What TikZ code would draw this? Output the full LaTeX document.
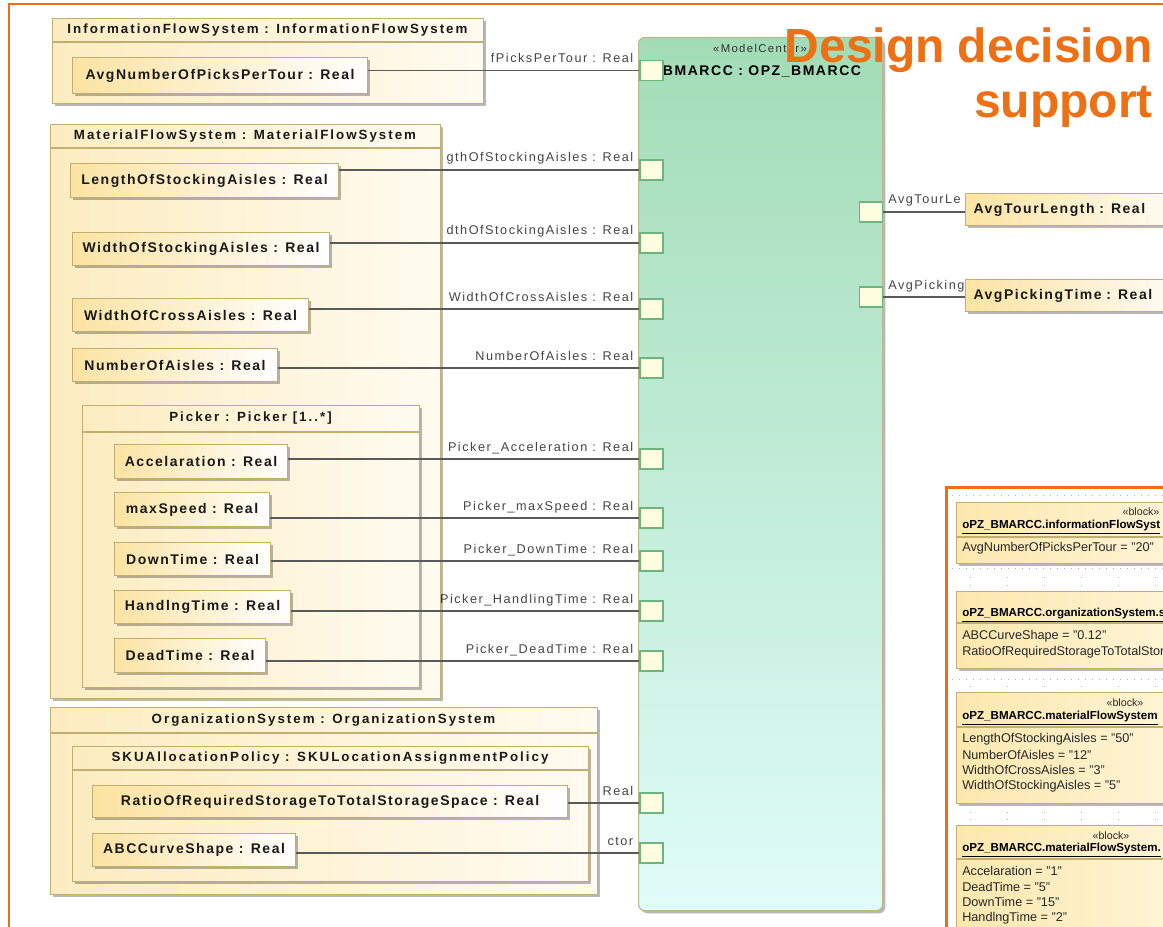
\documentclass[tikz,border=0pt]{standalone}
\usepackage{fontspec}
\setmainfont{Liberation Sans}
\newfontfamily\pfont{Liberation Sans}[LetterSpace=11]
\newfontfamily\hfont{Liberation Sans}[LetterSpace=15]
\newfontfamily\lfont{Liberation Sans}[LetterSpace=12]
\usetikzlibrary{shadows}
\definecolor{orng}{HTML}{EC6F16}
\definecolor{titleC}{HTML}{EE7014}
\definecolor{propL}{HTML}{FBE3A2}
\definecolor{propB}{HTML}{C2AE6E}
\definecolor{contL}{HTML}{FCECC0}
\definecolor{contR}{HTML}{FFFBF0}
\definecolor{mcTop}{HTML}{A2DCB6}
\definecolor{mcBot}{HTML}{E0FCFA}
\definecolor{mcB}{HTML}{BDB78E}
\definecolor{portF}{HTML}{FFFDE0}
\definecolor{portB}{HTML}{6CB57C}
\definecolor{lineC}{HTML}{5A5A5A}
\definecolor{labC}{HTML}{454545}
\definecolor{blkL}{HTML}{FCE8AE}
\definecolor{blkR}{HTML}{FFF6DC}
\newcommand\pbox[6]{\node[prop, minimum width={(#4-#2)*0.75pt}, minimum height={(#5-#3)*0.75pt}] (#1) at (#2,#3) {#6};}
\newcommand\cbox[7]{%
  \node[cont, minimum width={(#4-#2)*0.75pt}, minimum height={(#5-#3)*0.75pt}] (#1) at (#2,#3) {};
  \draw[draw=propB, line width=0.8pt] (#2,#6) -- (#4,#6);
  \node[hdr] (#1h) at ({(#2+#4)/2},{(#3+#6)/2}) {#7};}
\newcommand\blkbox[4]{%
  \node[blk, minimum width={250*0.75pt}, minimum height={(#3-#2)*0.75pt}] (#1) at (956,#2) {};
  \draw[draw=propB, line width=0.8pt] (956,#4) -- (1206,#4);}
\begin{document}
\begin{tikzpicture}[x=0.75pt,y=-0.75pt,
  shad/.style={drop shadow={shadow xshift=2pt,shadow yshift=-2pt,fill=black,opacity=0.28}},
  cont/.style={draw=propB, line width=0.8pt, left color=contL, right color=contR, shad, anchor=north west, inner sep=0pt},
  hdr/.style={font=\hfont\bfseries\fontsize{10}{12}\selectfont, text=black!90, inner sep=0pt},
  prop/.style={draw=propB, line width=0.8pt, left color=propL, right color=white, shad, anchor=north west, inner sep=0pt, font=\pfont\bfseries\fontsize{10.5}{12}\selectfont, text=black!90},
  lab/.style={font=\lfont\fontsize{9.5}{11}\selectfont, text=labC, inner sep=0pt, anchor=base east, xshift=-4.5pt, yshift=6pt},
  rlab/.style={font=\lfont\fontsize{9.5}{11}\selectfont, text=labC, inner sep=0pt, anchor=base west, xshift=3.75pt, yshift=6pt},
  conn/.style={draw=lineC, line width=0.9pt},
  port/.style={draw=portB, fill=portF, line width=0.8pt, minimum width=17.25pt, minimum height=15pt, inner sep=0pt},
  blk/.style={draw=propB, line width=0.8pt, left color=blkL, right color=blkR, shad, anchor=north west, inner sep=0pt},
  blkt/.style={font=\fontsize{9.5}{11}\selectfont, anchor=west, inner sep=0pt, text=black!85},
  blkn/.style={font=\bfseries\fontsize{8.7}{10}\selectfont, anchor=west, inner sep=0pt, text=black},
  blks/.style={font=\fontsize{8}{9}\selectfont, inner sep=0pt, text=black!85},
  ttl/.style={font=\bfseries\fontsize{36}{40}\selectfont, text=titleC, inner sep=0pt, anchor=base east},
  grdd/.style={draw=gray!60, line width=0.75pt, dash pattern=on 0.75pt off 4.5pt},
  grds/.style={draw=gray!60, line width=0.75pt, dash pattern=on 0.75pt off 27pt}]
\useasboundingbox (0,0) rectangle (1163,927);
\clip (0,0) rectangle (1163,927);
\fill[white] (0,0) rectangle (1163,927);
% outer orange frame
\draw[orng, line width=1.7pt] (9,940) -- (9,4.3) -- (1170,4.3);
% ModelCenter block
\node[draw=mcB, line width=0.9pt, top color=mcTop, bottom color=mcBot, rounded corners=4.5pt, shad, anchor=north west, inner sep=0pt, minimum width={244*0.75pt}, minimum height={873*0.75pt}] (mc) at (638,37) {};
\node[font=\lfont\fontsize{8.5}{10}\selectfont, text=black!80, inner sep=0pt] (mcst) at (760,48) {«ModelCenter»};
\node[font=\pfont\bfseries\fontsize{10.5}{12}\selectfont, inner sep=0pt] (mcname) at (762,71) {BMARCC : OPZ\_BMARCC};
% ports
\node[port] (qIFS) at (651.5,70.5) {};
\node[port] (qLSA) at (651.5,170) {};
\node[port] (qWSA) at (651.5,243) {};
\node[port] (qWCA) at (651.5,309) {};
\node[port] (qNA) at (651.5,368) {};
\node[port] (qAcc) at (651.5,459) {};
\node[port] (qMax) at (651.5,518) {};
\node[port] (qDown) at (651.5,561) {};
\node[port] (qHand) at (651.5,611) {};
\node[port] (qDead) at (651.5,661) {};
\node[port] (qRatio) at (651.5,803) {};
\node[port] (qABC) at (651.5,853) {};
\node[port] (qTour) at (871,212) {};
\node[port] (qPick) at (871,297) {};
% labels
\node[lab] (lIFS) at (qIFS.west) {fPicksPerTour : Real};
\node[lab] (lLSA) at (qLSA.west) {gthOfStockingAisles : Real};
\node[lab] (lWSA) at (qWSA.west) {dthOfStockingAisles : Real};
\node[lab] (lWCA) at (qWCA.west) {WidthOfCrossAisles : Real};
\node[lab] (lNA) at (qNA.west) {NumberOfAisles : Real};
\node[lab] (lAcc) at (qAcc.west) {Picker\_Acceleration : Real};
\node[lab] (lMax) at (qMax.west) {Picker\_maxSpeed : Real};
\node[lab] (lDown) at (qDown.west) {Picker\_DownTime : Real};
\node[lab] (lHand) at (qHand.west) {Picker\_HandlingTime : Real};
\node[lab] (lDead) at (qDead.west) {Picker\_DeadTime : Real};
\node[lab] (lRatio) at (qRatio.west) {Real};
\node[lab] (lABC) at (qABC.west) {ctor};
\node[rlab] (lTour) at (qTour.east) {AvgTourLe};
\node[rlab] (lPick) at (qPick.east) {AvgPicking};
% containers
\cbox{cIFS}{52}{18}{483}{103}{42}{InformationFlowSystem : InformationFlowSystem}
\pbox{pIFS}{72}{57}{367}{93}{AvgNumberOfPicksPerTour : Real}
\cbox{cMFS}{50}{124}{440}{698}{148}{MaterialFlowSystem : MaterialFlowSystem}
\pbox{pLSA}{70}{163}{338}{197}{LengthOfStockingAisles : Real}
\pbox{pWSA}{72}{232}{329}{265}{WidthOfStockingAisles : Real}
\pbox{pWCA}{72}{298}{308}{331}{WidthOfCrossAisles : Real}
\pbox{pNA}{72}{348}{277}{381}{NumberOfAisles : Real}
\cbox{cPick}{82}{405}{419}{687}{432}{Picker : Picker [1..*]}
\pbox{pAcc}{114}{444}{287}{478}{Accelaration : Real}
\pbox{pMax}{114}{492}{269}{526}{maxSpeed : Real}
\pbox{pDown}{114}{542}{270}{575}{DownTime : Real}
\pbox{pHand}{114}{590}{290}{623}{HandlngTime : Real}
\pbox{pDead}{114}{638}{265}{672}{DeadTime : Real}
\cbox{cOrg}{50}{707}{597}{894}{733}{OrganizationSystem : OrganizationSystem}
\cbox{cSKU}{72}{746}{588}{881}{770}{SKUAllocationPolicy : SKULocationAssignmentPolicy}
\pbox{pRatio}{92}{785}{567}{817}{RatioOfRequiredStorageToTotalStorageSpace : Real}
\pbox{pABC}{92}{833}{295}{866}{ABCCurveShape : Real}
% right property boxes
\node[prop, minimum height={32*0.75pt}, text width={(240-16)*0.75pt}, inner xsep=6pt, align=left] (pTour) at (965,193) {AvgTourLength : Real};
\node[prop, minimum height={32*0.75pt}, text width={(240-16)*0.75pt}, inner xsep=6pt, align=left] (pPick) at (965,279) {AvgPickingTime : Real};
% connectors
\foreach \p/\q in {pIFS/qIFS, pLSA/qLSA, pWSA/qWSA, pWCA/qWCA, pNA/qNA, pAcc/qAcc, pMax/qMax, pDown/qDown, pHand/qHand, pDead/qDead, pRatio/qRatio, pABC/qABC}
  \draw[conn] (\q.west) -- (\q.west -| \p.east);
\draw[conn] (qTour.east) -- (qTour.east -| pTour.west);
\draw[conn] (qPick.east) -- (qPick.east -| pPick.west);
% redraw ports on top of lines
\foreach \q/\y in {qIFS/70.5, qLSA/170, qWSA/243, qWCA/309, qNA/368, qAcc/459, qMax/518, qDown/561, qHand/611, qDead/661, qRatio/803, qABC/853}
  \node[port] at (651.5,\y) {};
% title
\node[ttl] (t1) at (1153,63) {Design decision};
\node[ttl] (t2) at (1153,118) {support};
% right panel
\draw[grdd] (952,495) -- (1163,495);
\draw[grdd] (952,568) -- (1163,568);
\draw[grds] (970,577) -- (1163,577);
\draw[grds] (970,585) -- (1163,585);
\draw[grdd] (952,679) -- (1163,679);
\draw[grds] (970,686) -- (1163,686);
\draw[grds] (970,812) -- (1163,812);
\draw[grds] (970,819) -- (1163,819);
\draw[orng, line width=2.25pt] (946,940) -- (946,487) -- (1170,487);
\blkbox{b1}{502}{563}{537}
\node[blks] (b1s) at (1141,512) {«block»};
\node[blkn] (b1n) at (962,527) {\underline{oPZ\_BMARCC.informationFlowSyst}};
\node[blkt] (b1a) at (962,548) {AvgNumberOfPicksPerTour = "20"};
\blkbox{b2}{591}{668}{623}
\node[blkn] (b2n) at (962,615) {\underline{oPZ\_BMARCC.organizationSystem.s}};
\node[blkt] (b2a) at (962,636) {ABCCurveShape = "0.12"};
\node[blkt] (b2b) at (962,652) {RatioOfRequiredStorageToTotalStor};
\blkbox{b3}{692}{803}{727}
\node[blks] (b3s) at (1125,703) {«block»};
\node[blkn] (b3n) at (962,718) {\underline{oPZ\_BMARCC.materialFlowSystem}};
\node[blkt] (b3a) at (962,739) {LengthOfStockingAisles = "50"};
\node[blkt] (b3b) at (962,755) {NumberOfAisles = "12"};
\node[blkt] (b3c) at (962,770) {WidthOfCrossAisles = "3"};
\node[blkt] (b3d) at (962,786) {WidthOfStockingAisles = "5"};
\blkbox{b4}{825}{960}{859}
\node[blks] (b4s) at (1111,836) {«block»};
\node[blkn] (b4n) at (962,850) {\underline{oPZ\_BMARCC.materialFlowSystem.}};
\node[blkt] (b4a) at (962,871) {Accelaration = "1"};
\node[blkt] (b4b) at (962,887) {DeadTime = "5"};
\node[blkt] (b4c) at (962,902) {DownTime = "15"};
\node[blkt] (b4d) at (962,918) {HandlngTime = "2"};
\end{tikzpicture}
\end{document}
